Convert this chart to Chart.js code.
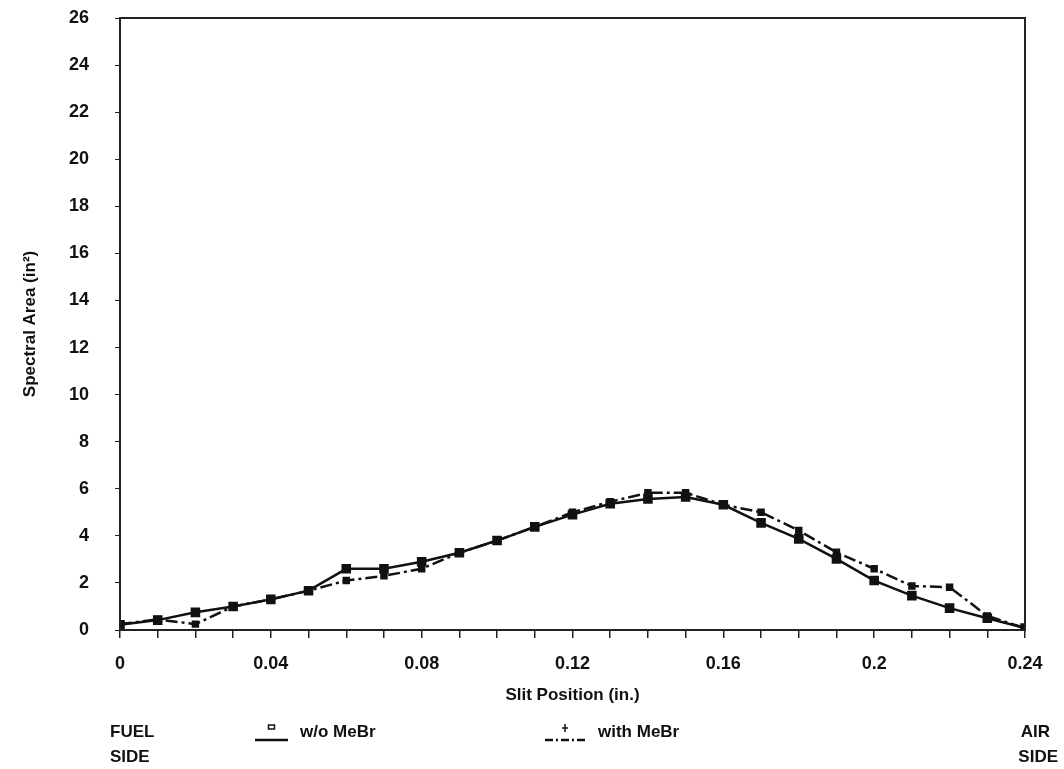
<!DOCTYPE html>
<html>
<head>
<meta charset="utf-8">
<script src="https://cdn.jsdelivr.net/npm/chart.js@4/dist/chart.umd.min.js"></script>
<style>
  html, body { margin: 0; padding: 0; background: #fff; }
  #wrap { width: 1064px; height: 769px; }
</style>
</head>
<body>
<div id="wrap"><canvas id="chart"></canvas></div>
<script>
// slit position (in.), 0 = fuel side, 0.24 = air side
const slitPos = [0, 0.01, 0.02, 0.03, 0.04, 0.05, 0.06, 0.07, 0.08, 0.09, 0.10, 0.11, 0.12,
  0.13, 0.14, 0.15, 0.16, 0.17, 0.18, 0.19, 0.20, 0.21, 0.22, 0.23, 0.24];

// spectral area (in^2)
const withoutMeBr = [0.22, 0.42, 0.75, 1.0, 1.3, 1.67, 2.6, 2.6, 2.9, 3.28, 3.8, 4.38, 4.9,
  5.36, 5.57, 5.65, 5.32, 4.55, 3.87, 3.02, 2.1, 1.46, 0.93, 0.5, 0.08];
const withMeBr = [0.25, 0.45, 0.25, 1.0, 1.3, 1.67, 2.1, 2.3, 2.6, 3.28, 3.8, 4.38, 5.0,
  5.45, 5.83, 5.83, 5.32, 5.0, 4.23, 3.3, 2.6, 1.87, 1.82, 0.6, 0.08];

const seriesNames = ["w/o MeBr", "with MeBr"];
const xLabelEvery = 4; // label every 0.04

const FONT = "'Liberation Sans', Arial, sans-serif";

const toPoints = (ys) => ys.map((y, i) => ({ x: slitPos[i], y }));

// frame around the plot + bottom legend with fuel/air side labels
const framePlugin = {
  id: "frame",
  afterDraw(chart) {
    const { ctx, chartArea: a } = chart;
    ctx.save();
    ctx.strokeStyle = "#222";
    ctx.lineWidth = 2;
    ctx.strokeRect(a.left, a.top, a.right - a.left, a.bottom - a.top);

    ctx.fillStyle = "#111";
    ctx.font = "bold 17px " + FONT;
    ctx.textBaseline = "middle";
    const y1 = 732, y2 = 757;
    ctx.textAlign = "left";
    ctx.fillText("FUEL", 110, y1);
    ctx.fillText("SIDE", 110, y2);
    ctx.textAlign = "right";
    ctx.fillText("AIR", 1050, y1);
    ctx.fillText("SIDE", 1058, y2);

    // legend samples
    const items = [
      { x0: 255, x1: 288, tx: 300, dash: [], marker: "rect" },
      { x0: 545, x1: 585, tx: 598, dash: [8, 3, 2, 3], marker: "plus" },
    ];
    items.forEach((it, i) => {
      ctx.strokeStyle = "#111";
      ctx.lineWidth = 2.5;
      ctx.setLineDash(it.dash);
      ctx.beginPath();
      ctx.moveTo(it.x0, y1 + 8);
      ctx.lineTo(it.x1, y1 + 8);
      ctx.stroke();
      ctx.setLineDash([]);
      const mx = (it.x0 + it.x1) / 2;
      ctx.lineWidth = 1.5;
      if (it.marker === "rect") {
        ctx.strokeRect(mx - 3, y1 - 7, 6, 4);
      } else {
        ctx.beginPath();
        ctx.moveTo(mx - 3, y1 - 4); ctx.lineTo(mx + 3, y1 - 4);
        ctx.moveTo(mx, y1 - 8); ctx.lineTo(mx, y1);
        ctx.stroke();
      }
      ctx.textAlign = "left";
      ctx.fillText(seriesNames[i], it.tx, y1);
    });
    ctx.restore();
  },
};

new Chart(document.getElementById("chart"), {
  type: "line",
  data: {
    datasets: [
      {
        label: seriesNames[0],
        data: toPoints(withoutMeBr),
        borderColor: "#111",
        backgroundColor: "#111",
        borderWidth: 2.5,
        pointStyle: "rect",
        pointRadius: 5,
        tension: 0,
      },
      {
        label: seriesNames[1],
        data: toPoints(withMeBr),
        borderColor: "#111",
        backgroundColor: "#111",
        borderWidth: 2.5,
        borderDash: [12, 4, 3, 4],
        pointStyle: "rect",
        pointRadius: 3.5,
        tension: 0,
      },
    ],
  },
  options: {
    responsive: true,
    maintainAspectRatio: false,
    animation: false,
    layout: { padding: { top: 18, right: 39, bottom: 63, left: 20 } },
    plugins: {
      legend: { display: false },
      tooltip: { enabled: false },
    },
    scales: {
      x: {
        type: "linear",
        min: 0,
        max: 0.24,
        afterFit: (s) => { s.height = 76; },
        grid: { drawOnChartArea: false, tickLength: 8, color: "#222", lineWidth: 1.5 },
        border: { color: "#222", width: 2 },
        ticks: {
          stepSize: 0.01,
          autoSkip: false,
          maxRotation: 0,
          padding: 15,
          color: "#111",
          font: { family: FONT, size: 18, weight: "bold" },
          callback: (v) => {
            const n = Math.round(v * 100);
            return n % xLabelEvery === 0 ? String(n / 100) : "";
          },
        },
        title: {
          display: true,
          text: "Slit Position (in.)",
          color: "#111",
          padding: { top: 0, bottom: 0 },
          font: { family: FONT, size: 17, weight: "bold" },
        },
      },
      y: {
        min: 0,
        max: 26,
        afterFit: (s) => { s.width = 100; s.paddingTop = 0; s.paddingBottom = 0; },
        grid: { drawOnChartArea: false, tickLength: 5, color: "#222" },
        border: { color: "#222", width: 2 },
        ticks: {
          stepSize: 2,
          padding: 26,
          color: "#111",
          font: { family: FONT, size: 18, weight: "bold" },
        },
        title: {
          display: true,
          text: "Spectral Area (in²)",
          color: "#111",
          padding: { top: 0, bottom: 0 },
          font: { family: FONT, size: 17, weight: "bold" },
        },
      },
    },
  },
  plugins: [framePlugin],
});
</script>
</body>
</html>
